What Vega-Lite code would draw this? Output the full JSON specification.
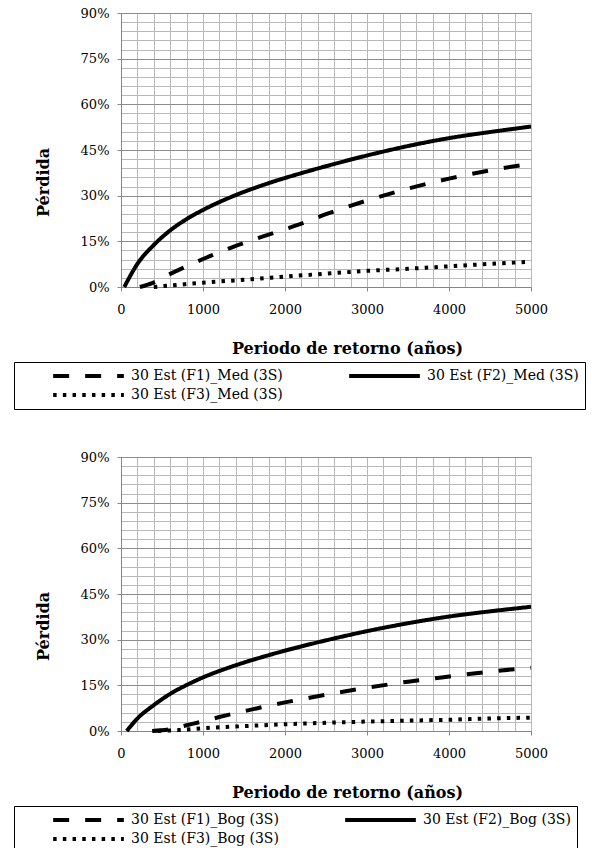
{
  "$schema": "https://vega.github.io/schema/vega-lite/v6.json",
  "padding": {"left": 13, "top": 7, "right": 0, "bottom": 0},
  "spacing": 41,
  "config": {
    "font": "DejaVu Serif",
    "view": {"stroke": null},
    "axis": {
      "labelFont": "DejaVu Serif", "labelFontSize": 13, "labelColor": "#000000",
      "titleFont": "DejaVu Serif", "titleFontSize": 16, "titleFontWeight": "bold", "titleColor": "#000000",
      "domainColor": "#868686", "tickColor": "#868686", "tickSize": 4,
      "gridColor": "#b8b8b8", "gridWidth": 1, "labelFlush": false, "labelOverlap": false
    },
    "legend": {
      "symbolType": "stroke", "symbolSize": 5000, "symbolStrokeWidth": 4, "symbolStrokeColor": "#000000",
      "symbolOffset": 31, "labelOffset": 5, "clipHeight": 16, "direction": "horizontal",
      "labelFont": "DejaVu Serif", "labelFontSize": 14, "labelColor": "#000000", "labelLimit": 0,
      "strokeColor": "#000000", "padding": 6, "columnPadding": 33, "rowPadding": 3
    },
    "line": {"color": "#000000", "strokeWidth": 4, "interpolate": "monotone"}
  },
  "datasets": {
    "med": [
      {"serie": "30 Est (F1)_Med (3S)", "periodo": 230, "perdida": 0},
      {"serie": "30 Est (F1)_Med (3S)", "periodo": 380, "perdida": 1.3},
      {"serie": "30 Est (F1)_Med (3S)", "periodo": 570, "perdida": 3.9},
      {"serie": "30 Est (F1)_Med (3S)", "periodo": 800, "perdida": 6.8},
      {"serie": "30 Est (F1)_Med (3S)", "periodo": 1000, "perdida": 9.2},
      {"serie": "30 Est (F1)_Med (3S)", "periodo": 1200, "perdida": 11.4},
      {"serie": "30 Est (F1)_Med (3S)", "periodo": 1400, "perdida": 13.5},
      {"serie": "30 Est (F1)_Med (3S)", "periodo": 1600, "perdida": 15.4},
      {"serie": "30 Est (F1)_Med (3S)", "periodo": 1800, "perdida": 17.2},
      {"serie": "30 Est (F1)_Med (3S)", "periodo": 2000, "perdida": 19.0},
      {"serie": "30 Est (F1)_Med (3S)", "periodo": 2200, "perdida": 20.8},
      {"serie": "30 Est (F1)_Med (3S)", "periodo": 2500, "perdida": 23.9},
      {"serie": "30 Est (F1)_Med (3S)", "periodo": 3000, "perdida": 28.4},
      {"serie": "30 Est (F1)_Med (3S)", "periodo": 3500, "perdida": 32.3},
      {"serie": "30 Est (F1)_Med (3S)", "periodo": 4000, "perdida": 35.6},
      {"serie": "30 Est (F1)_Med (3S)", "periodo": 4500, "perdida": 38.3},
      {"serie": "30 Est (F1)_Med (3S)", "periodo": 5000, "perdida": 40.5},
      {"serie": "30 Est (F2)_Med (3S)", "periodo": 40, "perdida": 0},
      {"serie": "30 Est (F2)_Med (3S)", "periodo": 200, "perdida": 7.6},
      {"serie": "30 Est (F2)_Med (3S)", "periodo": 400, "perdida": 13.8},
      {"serie": "30 Est (F2)_Med (3S)", "periodo": 600, "perdida": 18.6},
      {"serie": "30 Est (F2)_Med (3S)", "periodo": 800, "perdida": 22.3},
      {"serie": "30 Est (F2)_Med (3S)", "periodo": 1000, "perdida": 25.3},
      {"serie": "30 Est (F2)_Med (3S)", "periodo": 1400, "perdida": 30.2},
      {"serie": "30 Est (F2)_Med (3S)", "periodo": 1800, "perdida": 34.1},
      {"serie": "30 Est (F2)_Med (3S)", "periodo": 2200, "perdida": 37.4},
      {"serie": "30 Est (F2)_Med (3S)", "periodo": 2600, "perdida": 40.4},
      {"serie": "30 Est (F2)_Med (3S)", "periodo": 3000, "perdida": 43.2},
      {"serie": "30 Est (F2)_Med (3S)", "periodo": 3500, "perdida": 46.3},
      {"serie": "30 Est (F2)_Med (3S)", "periodo": 4000, "perdida": 48.9},
      {"serie": "30 Est (F2)_Med (3S)", "periodo": 4500, "perdida": 50.9},
      {"serie": "30 Est (F2)_Med (3S)", "periodo": 5000, "perdida": 52.7},
      {"serie": "30 Est (F3)_Med (3S)", "periodo": 400, "perdida": 0},
      {"serie": "30 Est (F3)_Med (3S)", "periodo": 600, "perdida": 0.5},
      {"serie": "30 Est (F3)_Med (3S)", "periodo": 1000, "perdida": 1.4},
      {"serie": "30 Est (F3)_Med (3S)", "periodo": 1500, "perdida": 2.4},
      {"serie": "30 Est (F3)_Med (3S)", "periodo": 2000, "perdida": 3.4},
      {"serie": "30 Est (F3)_Med (3S)", "periodo": 2500, "perdida": 4.4},
      {"serie": "30 Est (F3)_Med (3S)", "periodo": 3000, "perdida": 5.3},
      {"serie": "30 Est (F3)_Med (3S)", "periodo": 3500, "perdida": 6.0},
      {"serie": "30 Est (F3)_Med (3S)", "periodo": 4000, "perdida": 6.8},
      {"serie": "30 Est (F3)_Med (3S)", "periodo": 4500, "perdida": 7.6},
      {"serie": "30 Est (F3)_Med (3S)", "periodo": 5000, "perdida": 8.3}
    ],
    "bog": [
      {"serie": "30 Est (F1)_Bog (3S)", "periodo": 380, "perdida": 0},
      {"serie": "30 Est (F1)_Bog (3S)", "periodo": 600, "perdida": 0.6},
      {"serie": "30 Est (F1)_Bog (3S)", "periodo": 800, "perdida": 1.9},
      {"serie": "30 Est (F1)_Bog (3S)", "periodo": 1000, "perdida": 3.2},
      {"serie": "30 Est (F1)_Bog (3S)", "periodo": 1200, "perdida": 4.6},
      {"serie": "30 Est (F1)_Bog (3S)", "periodo": 1400, "perdida": 5.9},
      {"serie": "30 Est (F1)_Bog (3S)", "periodo": 1600, "perdida": 7.1},
      {"serie": "30 Est (F1)_Bog (3S)", "periodo": 1800, "perdida": 8.3},
      {"serie": "30 Est (F1)_Bog (3S)", "periodo": 2000, "perdida": 9.4},
      {"serie": "30 Est (F1)_Bog (3S)", "periodo": 2200, "perdida": 10.4},
      {"serie": "30 Est (F1)_Bog (3S)", "periodo": 2500, "perdida": 11.9},
      {"serie": "30 Est (F1)_Bog (3S)", "periodo": 3000, "perdida": 14.2},
      {"serie": "30 Est (F1)_Bog (3S)", "periodo": 3500, "perdida": 16.2},
      {"serie": "30 Est (F1)_Bog (3S)", "periodo": 4000, "perdida": 17.9},
      {"serie": "30 Est (F1)_Bog (3S)", "periodo": 4500, "perdida": 19.5},
      {"serie": "30 Est (F1)_Bog (3S)", "periodo": 5000, "perdida": 20.8},
      {"serie": "30 Est (F2)_Bog (3S)", "periodo": 70, "perdida": 0},
      {"serie": "30 Est (F2)_Bog (3S)", "periodo": 200, "perdida": 4.1},
      {"serie": "30 Est (F2)_Bog (3S)", "periodo": 400, "perdida": 8.5},
      {"serie": "30 Est (F2)_Bog (3S)", "periodo": 600, "perdida": 12.2},
      {"serie": "30 Est (F2)_Bog (3S)", "periodo": 800, "perdida": 15.1},
      {"serie": "30 Est (F2)_Bog (3S)", "periodo": 1000, "perdida": 17.6},
      {"serie": "30 Est (F2)_Bog (3S)", "periodo": 1400, "perdida": 21.6},
      {"serie": "30 Est (F2)_Bog (3S)", "periodo": 1800, "perdida": 24.9},
      {"serie": "30 Est (F2)_Bog (3S)", "periodo": 2200, "perdida": 27.8},
      {"serie": "30 Est (F2)_Bog (3S)", "periodo": 2600, "perdida": 30.4},
      {"serie": "30 Est (F2)_Bog (3S)", "periodo": 3000, "perdida": 32.8},
      {"serie": "30 Est (F2)_Bog (3S)", "periodo": 3500, "perdida": 35.4},
      {"serie": "30 Est (F2)_Bog (3S)", "periodo": 4000, "perdida": 37.6},
      {"serie": "30 Est (F2)_Bog (3S)", "periodo": 4500, "perdida": 39.3},
      {"serie": "30 Est (F2)_Bog (3S)", "periodo": 5000, "perdida": 40.8},
      {"serie": "30 Est (F3)_Bog (3S)", "periodo": 450, "perdida": 0},
      {"serie": "30 Est (F3)_Bog (3S)", "periodo": 700, "perdida": 0.3},
      {"serie": "30 Est (F3)_Bog (3S)", "periodo": 1000, "perdida": 0.9},
      {"serie": "30 Est (F3)_Bog (3S)", "periodo": 1500, "perdida": 1.6},
      {"serie": "30 Est (F3)_Bog (3S)", "periodo": 2000, "perdida": 2.2},
      {"serie": "30 Est (F3)_Bog (3S)", "periodo": 2500, "perdida": 2.7},
      {"serie": "30 Est (F3)_Bog (3S)", "periodo": 3000, "perdida": 3.1},
      {"serie": "30 Est (F3)_Bog (3S)", "periodo": 3500, "perdida": 3.4},
      {"serie": "30 Est (F3)_Bog (3S)", "periodo": 4000, "perdida": 3.7},
      {"serie": "30 Est (F3)_Bog (3S)", "periodo": 4500, "perdida": 4.1},
      {"serie": "30 Est (F3)_Bog (3S)", "periodo": 5000, "perdida": 4.4}
    ]
  },
  "vconcat": [
    {
      "width": 410, "height": 274,
      "data": {"name": "med"},
      "layer": [
        {
          "mark": {"type": "point", "opacity": 0},
          "encoding": {
            "x": {"field": "periodo", "type": "quantitative", "scale": {"domain": [0, 5000], "nice": false},
              "axis": {"orient": "bottom", "values": [0,200,400,600,800,1000,1200,1400,1600,1800,2000,2200,2400,2600,2800,3000,3200,3400,3600,3800,4000,4200,4400,4600,4800,5000], "grid": true, "labels": false, "ticks": false, "domain": false, "title": null}},
            "y": {"field": "perdida", "type": "quantitative", "scale": {"domain": [0, 90], "nice": false},
              "axis": {"orient": "left", "values": [0,3,6,9,12,15,18,21,24,27,30,33,36,39,42,45,48,51,54,57,60,63,66,69,72,75,78,81,84,87,90], "grid": true, "labels": false, "ticks": false, "domain": false, "title": null}}
          }
        },
        {
          "mark": {"type": "line"},
          "encoding": {
            "x": {"field": "periodo", "type": "quantitative",
              "axis": {"orient": "bottom", "values": [0,1000,2000,3000,4000,5000], "format": "d", "grid": false, "title": "Periodo de retorno (años)", "titleX": 226, "labelPadding": 12, "titlePadding": 24}},
            "y": {"field": "perdida", "type": "quantitative",
              "axis": {"orient": "left", "values": [0,15,30,45,60,75,90], "labelExpr": "datum.value + '%'", "grid": true, "gridColor": "#8c8c8c", "title": "Pérdida", "titleY": 169, "labelPadding": 8, "titlePadding": 29}},
            "strokeDash": {"field": "serie", "type": "nominal",
              "scale": {"domain": ["30 Est (F1)_Med (3S)", "30 Est (F2)_Med (3S)", "30 Est (F3)_Med (3S)"], "range": [[16,16],[1,0],[3.5,6.2]]},
              "legend": {"orient": "none", "legendX": -107, "legendY": 349, "title": null, "columns": 2}}
          }
        }
      ],
      "resolve": {"axis": {"x": "independent", "y": "independent"}}
    },
    {
      "width": 410, "height": 274,
      "data": {"name": "bog"},
      "layer": [
        {
          "mark": {"type": "point", "opacity": 0},
          "encoding": {
            "x": {"field": "periodo", "type": "quantitative", "scale": {"domain": [0, 5000], "nice": false},
              "axis": {"orient": "bottom", "values": [0,200,400,600,800,1000,1200,1400,1600,1800,2000,2200,2400,2600,2800,3000,3200,3400,3600,3800,4000,4200,4400,4600,4800,5000], "grid": true, "labels": false, "ticks": false, "domain": false, "title": null}},
            "y": {"field": "perdida", "type": "quantitative", "scale": {"domain": [0, 90], "nice": false},
              "axis": {"orient": "left", "values": [0,3,6,9,12,15,18,21,24,27,30,33,36,39,42,45,48,51,54,57,60,63,66,69,72,75,78,81,84,87,90], "grid": true, "labels": false, "ticks": false, "domain": false, "title": null}}
          }
        },
        {
          "mark": {"type": "line"},
          "encoding": {
            "x": {"field": "periodo", "type": "quantitative",
              "axis": {"orient": "bottom", "values": [0,1000,2000,3000,4000,5000], "format": "d", "grid": false, "title": "Periodo de retorno (años)", "titleX": 226, "labelPadding": 12, "titlePadding": 24}},
            "y": {"field": "perdida", "type": "quantitative",
              "axis": {"orient": "left", "values": [0,15,30,45,60,75,90], "labelExpr": "datum.value + '%'", "grid": true, "gridColor": "#8c8c8c", "title": "Pérdida", "titleY": 169, "labelPadding": 8, "titlePadding": 29}},
            "strokeDash": {"field": "serie", "type": "nominal",
              "scale": {"domain": ["30 Est (F1)_Bog (3S)", "30 Est (F2)_Bog (3S)", "30 Est (F3)_Bog (3S)"], "range": [[16,16],[1,0],[3.5,6.2]]},
              "legend": {"orient": "none", "legendX": -107, "legendY": 349, "title": null, "columns": 2}}
          }
        }
      ],
      "resolve": {"axis": {"x": "independent", "y": "independent"}}
    }
  ],
  "resolve": {"scale": {"strokeDash": "independent"}, "legend": {"strokeDash": "independent"}}
}
